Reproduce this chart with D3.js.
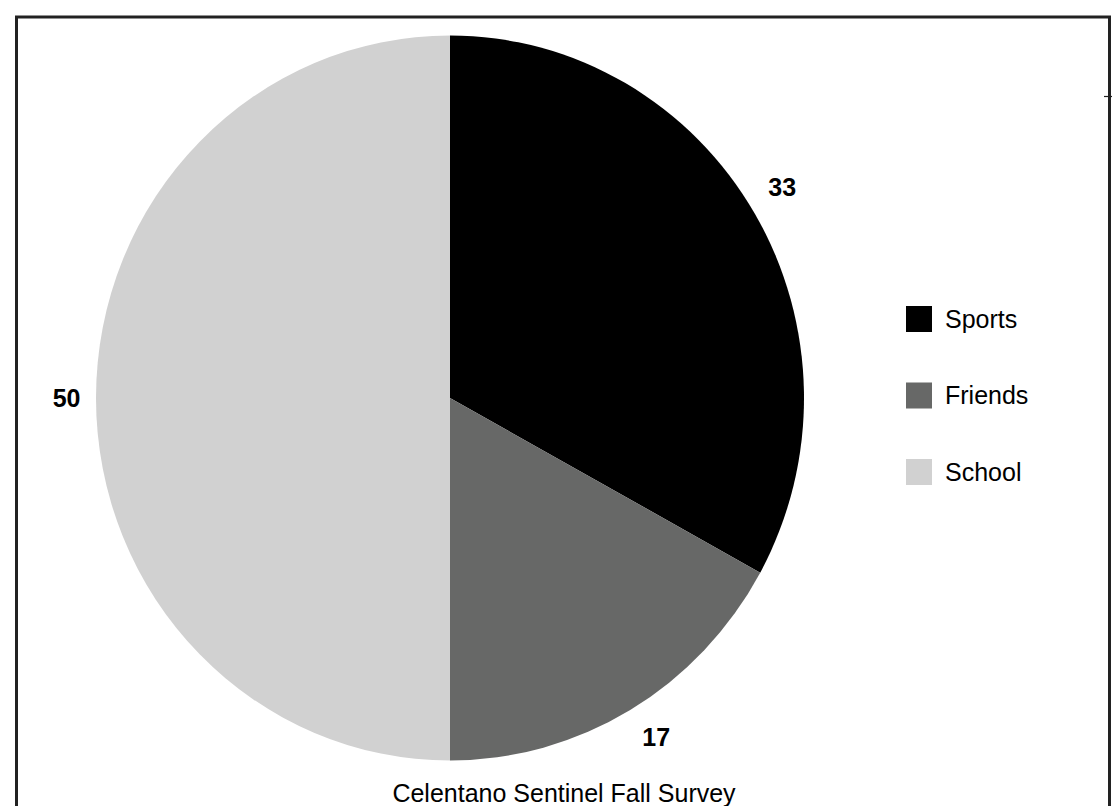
<!DOCTYPE html>
<html>
<head>
<meta charset="utf-8">
<script src="https://cdn.jsdelivr.net/npm/d3@7"></script>
<style>
  html, body { margin: 0; padding: 0; background: #fff; }
  svg { display: block; font-family: "Liberation Sans", Arial, sans-serif; }
</style>
</head>
<body>
<svg id="chart" width="1119" height="806"></svg>
<script>
// Survey categories and their shares
const categories = ["Sports", "Friends", "School"];
const values = [33, 17, 50];
const colors = ["#000000", "#676867", "#d1d1d1"];
const title = "Celentano Sentinel Fall Survey";

const svg = d3.select("#chart");

// Outer frame
svg.append("rect")
  .attr("x", 16.5).attr("y", 17)
  .attr("width", 1093).attr("height", 820)
  .attr("fill", "none")
  .attr("stroke", "#222")
  .attr("stroke-width", 3);
svg.append("line")
  .attr("x1", 1104).attr("x2", 1112)
  .attr("y1", 96.5).attr("y2", 96.5)
  .attr("stroke", "#222").attr("stroke-width", 1.2);

// Pie geometry (slightly taller than wide)
const cx = 450, cy = 398;
const ry = 362.5, rx = 354;

const data = categories.map((c, i) => ({ name: c, value: values[i], color: colors[i] }));
const pie = d3.pie().value(d => d.value).sort(null);
const arcs = pie(data);
const arc = d3.arc().innerRadius(0).outerRadius(ry);
const labelArc = d3.arc().innerRadius(ry * 1.1).outerRadius(ry * 1.1);

const g = svg.append("g")
  .attr("transform", `translate(${cx},${cy}) scale(${rx / ry},1)`);

g.selectAll("path.slice")
  .data(arcs)
  .join("path")
  .attr("class", "slice")
  .attr("d", arc)
  .attr("fill", d => d.data.color);

// Value labels outside each slice, with small per-label nudges
const nudge = { Sports: [-3, -8], Friends: [8, -4], School: [6, 0] };
svg.append("g")
  .attr("transform", `translate(${cx},${cy})`)
  .selectAll("text.value")
  .data(arcs)
  .join("text")
  .attr("class", "value")
  .attr("x", d => labelArc.centroid(d)[0] * (rx / ry) + nudge[d.data.name][0])
  .attr("y", d => labelArc.centroid(d)[1] + nudge[d.data.name][1])
  .attr("dy", "0.35em")
  .attr("text-anchor", "middle")
  .attr("font-size", 25)
  .attr("font-weight", "bold")
  .attr("fill", "#000")
  .text(d => d.data.value);

// Legend
const legendY = d3.scalePoint().domain(categories).range([306, 459]);
const legend = svg.append("g");
const items = legend.selectAll("g")
  .data(data)
  .join("g")
  .attr("transform", d => `translate(906,${legendY(d.name)})`);
items.append("rect")
  .attr("width", 26).attr("height", 26)
  .attr("fill", d => d.color);
items.append("text")
  .attr("x", 39).attr("y", 13)
  .attr("dy", "0.35em")
  .attr("font-size", 25)
  .attr("fill", "#000")
  .text(d => d.name);

// Caption
svg.append("text")
  .attr("x", 564).attr("y", 802)
  .attr("text-anchor", "middle")
  .attr("font-size", 25)
  .attr("fill", "#000")
  .text(title);
</script>
</body>
</html>
